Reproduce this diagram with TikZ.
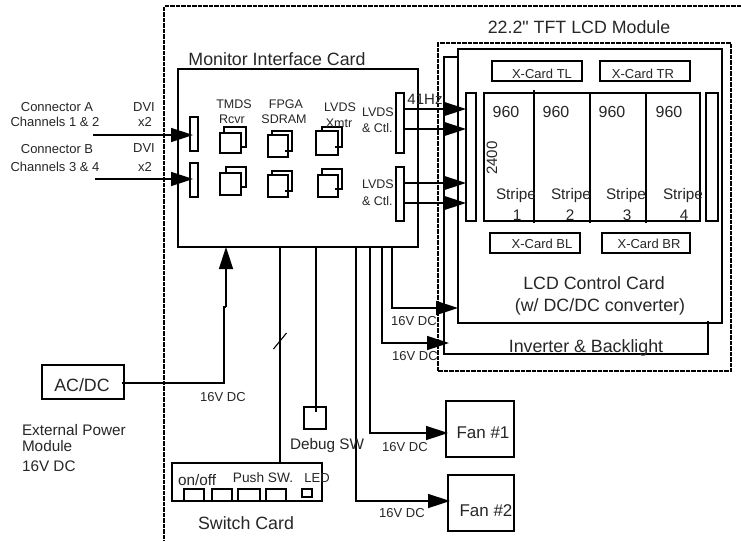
\documentclass[tikz,border=0pt]{standalone}
\usepackage{fontspec}
\setmainfont{Liberation Sans}
\newfontfamily\plainq{Liberation Sans}
\usetikzlibrary{arrows.meta}
\newcommand{\fs}[1]{\fontsize{#1}{#1}\selectfont}
\newcommand{\bx}[6][]{%
  \pgfmathsetmacro{\bw}{#5-#3}\pgfmathsetmacro{\bh}{#6-#4}%
  \node[boxn,minimum width=\bw pt,minimum height=\bh pt,#1] (#2) at (#3,#4) {};}
\newcommand{\tx}[5][]{\node[txt,#1] (#2) at (#3,#4) {#5};}
\tikzset{
  boxn/.style={draw=black,fill=white,line width=1.5pt,anchor=north west,inner sep=0pt,outer sep=0pt},
  txt/.style={inner sep=0pt,outer sep=0pt,text=black!85,align=center},
  wire/.style={draw=black,line width=1.5pt},
  arrowed/.style={wire,-{Triangle[length=22pt,width=14pt]}},
  dashbox/.style={draw=black,line width=1.5pt,dash pattern=on 4.5pt off 1pt},
  t13/.style={font=\fs{13}},
  t12/.style={font=\fs{12.5}},
  t15/.style={font=\fs{15.3}},
  t18/.style={font=\fs{17.8}}
}
\begin{document}
\begin{tikzpicture}[x=1pt,y=-1pt]
\useasboundingbox (0,0) rectangle (741,541);
% dashed enclosures
\coordinate (oa) at (741,6); \coordinate (ob) at (164,6); \coordinate (oc) at (164,541);
\draw[dashbox] (oa) -- (ob) -- (oc);
\node[dashbox,anchor=north west,minimum width=293pt,minimum height=328pt,inner sep=0pt,outer sep=0pt] (module) at (438,43) {};
% inverter behind control card
\coordinate (ia) at (458,57); \coordinate (ib) at (444,57); \coordinate (ic) at (444,354); \coordinate (id) at (708,354); \coordinate (ie) at (708,321);
\draw[wire] (ia) -- (ib) -- (ic) -- (id) -- (ie);
% boxes
\bx{mon}{178}{69}{418}{247}
\bx{lcd}{458}{49}{722}{323}
\draw[wire] (ie) -- (id);
\bx{xtl}{492}{61}{582}{81}
\bx{xtr}{600}{61}{690}{81}
\bx{xbl}{490}{233}{580}{253}
\bx{xbr}{602}{233}{690}{253}
\bx{lbar}{466}{93}{476}{221}
\bx{panel}{484}{93}{700}{221}
\bx{rbar}{706}{93}{718}{221}
\coordinate (d1a) at (534,90); \coordinate (d1b) at (534,223);
\coordinate (d2a) at (590,93); \coordinate (d2b) at (590,223);
\coordinate (d3a) at (646,93); \coordinate (d3b) at (646,223);
\draw[wire] (d1a) -- (d1b) (d2a) -- (d2b) (d3a) -- (d3b);
\bx{in1}{190}{117}{198}{151}
\bx{in2}{190}{163}{198}{197}
\bx{ov1}{396}{93}{404}{153}
\bx{ov2}{396}{167}{404}{221}
% chip stacks
\bx{cb1}{224}{127}{246}{147}\bx{cf1}{220}{133}{241}{153}
\bx{cb2}{226}{167}{246}{187}\bx{cf2}{220}{173}{241}{195}
\bx{cb3}{272}{131}{292}{151}\bx{cf3}{268}{135}{288}{157}
\bx{cb4}{272}{171}{292}{191}\bx{cf4}{268}{175}{288}{197}
\bx{cb5}{322}{127}{342}{147}\bx{cf5}{316}{131}{338}{155}
\bx{cb6}{322}{169}{342}{189}\bx{cf6}{318}{175}{338}{197}
\draw[wire] (285,151) -- (288,151) (285,191) -- (288,191) (335,147) -- (338,147) (335,189) -- (338,189);
% external
\bx{acdc}{42}{365}{124}{399}
\bx{dbg}{304}{407}{326}{429}
\bx{sw}{172}{463}{322}{501}
\bx{b1}{184}{489}{204}{501}
\bx{b2}{212}{489}{232}{501}
\bx{b3}{238}{489}{260}{501}
\bx{b4}{266}{489}{286}{501}
\bx{led}{302}{489}{312}{497}
\bx{fan1}{446}{401}{514}{457}
\bx{fan2}{448}{475}{514}{531}
% input connectors
\coordinate (sa) at (93,135); \coordinate (sb) at (95,179);
\coordinate (ta) at (193,135); \coordinate (tb) at (193,179);
\draw[arrowed] (sa) -- (ta);
\draw[arrowed] (sb) -- (tb);
% LVDS links
\foreach \y/\n in {109/a,129/b,183/c,203/d}{
  \coordinate (l\n) at (404,\y); \coordinate (r\n) at (466,\y);
  \draw[arrowed] (l\n) -- (r\n);
}
% power
\coordinate (pa) at (122,383); \coordinate (pb) at (224,383); \coordinate (pc) at (224,307); \coordinate (pd) at (226,307); \coordinate (pe) at (226,247);
\draw[wire] (pa) -- (pb) -- (pc) -- (pd);
\draw[arrowed] (pd) -- (pe);
\coordinate (m1) at (280,247); \coordinate (s1) at (280,463);
\draw[wire] (m1) -- (s1);
\coordinate (sl1) at (273.5,349); \coordinate (sl2) at (286.5,333);
\draw[line width=1.1pt] (sl1) -- (sl2);
\coordinate (m2) at (316,247); \coordinate (s2) at (316,412);
\draw[wire] (m2) -- (s2);
\coordinate (m3) at (356,247); \coordinate (f2a) at (356,501); \coordinate (f2b) at (450,501);
\draw[arrowed] (m3) -- (f2a) -- (f2b);
\coordinate (m4) at (370,247); \coordinate (f1a) at (370,433); \coordinate (f1b) at (448,433);
\draw[arrowed] (m4) -- (f1a) -- (f1b);
\coordinate (m5) at (382,247); \coordinate (iva) at (382,343); \coordinate (ivb) at (449,343);
\draw[arrowed] (m5) -- (iva) -- (ivb);
\coordinate (m6) at (392,247); \coordinate (lca) at (392,308); \coordinate (lcb) at (458,308);
\draw[arrowed] (m6) -- (lca) -- (lcb);
% text
\tx[t13]{ta1}{57}{107}{Connector A}
\tx[t13]{ta2}{55}{122}{Channels 1 \& 2}
\tx[t13]{ta3}{144}{107}{DVI}
\tx[t13]{ta4}{145}{122}{x2}
\tx[t13]{tb1}{57}{149}{Connector B}
\tx[t13]{tb2}{55}{167}{Channels 3 \& 4}
\tx[t13]{tb3}{144}{148}{DVI}
\tx[t13]{tb4}{145}{167}{x2}
\tx[t18]{tm}{277}{59}{Monitor Interface Card}
\tx[t18]{tlm}{579}{27}{22.2{\plainq "} TFT LCD Module}
\tx[t12]{c1}{234}{104}{TMDS}
\tx[t12]{c2}{232}{119}{Rcvr}
\tx[t12]{c3}{286}{104}{FPGA}
\tx[t12]{c4}{284}{119}{SDRAM}
\tx[t12]{c5}{340}{107}{LVDS}
\tx[t12]{c6}{339}{123}{Xmtr}
\tx[t12,anchor=west]{o1}{362}{112}{LVDS}
\tx[t12,anchor=west]{o2}{362}{128}{\& Ctl.}
\tx[t12,anchor=west]{o3}{362}{184}{LVDS}
\tx[t12,anchor=west]{o4}{362}{201}{\& Ctl.}
\tx[font=\fs{15}]{hz}{425}{99}{41Hz}
\tx[t13]{x1}{542}{74}{X-Card TL}
\tx[t13]{x2}{643}{74}{X-Card TR}
\tx[t13]{x3}{542}{244}{X-Card BL}
\tx[t13]{x4}{649}{244}{X-Card BR}
\tx[font=\fs{16}]{n1}{506}{112}{960}
\tx[font=\fs{16}]{n2}{556}{112}{960}
\tx[font=\fs{16}]{n3}{612}{112}{960}
\tx[font=\fs{16}]{n4}{669}{112}{960}
\tx[font=\fs{15},rotate=90]{h}{492}{158}{2400}
\tx[t15]{s1t}{516}{196}{Stripe}
\tx[t15]{s2t}{571}{196}{Stripe}
\tx[t15]{s3t}{626}{196}{Stripe}
\tx[t15]{s4t}{683}{196}{Stripe}
\tx[t15]{k1}{517}{215}{1}
\tx[t15]{k2}{570}{215}{2}
\tx[t15]{k3}{627}{215}{3}
\tx[t15]{k4}{684}{215}{4}
\tx[t18]{lc1}{594}{283}{LCD Control Card}
\tx[t18]{lc2}{600}{307}{(w/ DC/DC converter)}
\tx[t18]{inv}{586}{348}{Inverter \& Backlight}
\tx[t13]{v1}{414}{321}{16V DC}
\tx[t13]{v2}{415}{356}{16V DC}
\tx[t13]{v3}{223}{397}{16V DC}
\tx[t13]{v4}{405}{447}{16V DC}
\tx[t13]{v5}{402}{513}{16V DC}
\tx[t18]{ac}{82}{385}{AC/DC}
\tx[t15,anchor=west]{e1}{22}{430}{External Power}
\tx[t15,anchor=west]{e2}{22}{446}{Module}
\tx[t15,anchor=west]{e3}{22}{466}{16V DC}
\tx[t15]{dt}{327}{446}{Debug SW}
\tx[t15]{on}{197}{480}{on/off}
\tx[font=\fs{13.7}]{ps}{263}{478}{Push SW.}
\tx[t13]{ld}{317}{478}{LED}
\tx[t18]{sc}{246}{523}{Switch Card}
\tx[font=\fs{17}]{f1}{483}{433}{Fan \#1}
\tx[font=\fs{17}]{f2}{486}{511}{Fan \#2}
\end{tikzpicture}
\end{document}
